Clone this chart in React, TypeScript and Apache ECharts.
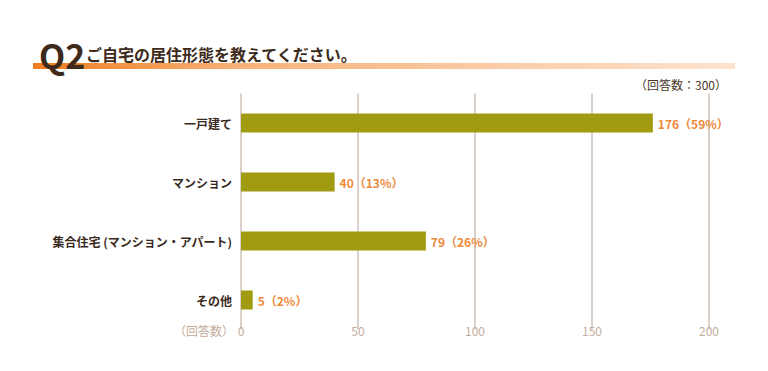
import React, { useEffect, useRef } from "react";
import * as echarts from "echarts";

const categories = ["一戸建て", "マンション", "集合住宅 (マンション・アパート)", "その他"];
const counts = [176, 40, 79, 5];
const percents = [59, 13, 26, 2];
const xTicks = [0, 50, 100, 150, 200];

export default function App() {
  const ref = useRef<HTMLDivElement>(null);
  useEffect(() => {
    if (!ref.current) return;
    const chart = echarts.init(ref.current, null, { renderer: "svg" });
    const font = "'Noto Sans CJK JP', 'Noto Sans', sans-serif";
    chart.setOption({
      animation: false,
      backgroundColor: "#ffffff",
      grid: { left: 241, right: 59, top: 93.5, bottom: 41.5, containLabel: false },
      xAxis: {
        type: "value",
        min: xTicks[0],
        max: xTicks[xTicks.length - 1],
        interval: 50,
        offset: -13,
        axisLine: { show: false },
        axisTick: { show: false },
        axisLabel: { color: "#c4ad9c", fontSize: 12, fontFamily: font, margin: 8 },
        splitLine: { show: true, lineStyle: { color: "#dad2ca", width: 2 } },
      },
      yAxis: {
        type: "category",
        data: categories,
        inverse: true,
        axisLine: { show: false },
        axisTick: { show: false },
        axisLabel: { color: "#3a2a1e", fontSize: 12, fontWeight: "bold", fontFamily: font, margin: 9 },
      },
      series: [
        {
          type: "bar",
          data: counts,
          barWidth: 19,
          itemStyle: { color: "#a09b10" },
          label: {
            show: true,
            position: "right",
            distance: 5,
            color: "#ee8a3c",
            fontSize: 12,
            fontWeight: "bold",
            fontFamily: font,
            formatter: (p: any) => `${p.value}（${percents[p.dataIndex]}%）`,
          },
        },
      ],
      graphic: [
        {
          type: "rect",
          shape: { x: 33, y: 63, width: 702, height: 6 },
          style: {
            fill: new echarts.graphic.LinearGradient(0, 0, 1, 0, [
              { offset: 0, color: "#f07d1e" },
              { offset: 0.3, color: "#f7b27a" },
              { offset: 1, color: "#fde3cf" },
            ]),
          },
          z: 1,
        },
        {
          type: "text",
          x: 39,
          y: 54,
          style: {
            text: "Q2",
            fontSize: 34,
            fontWeight: "bold",
            fontFamily: font,
            fill: "#3d2a1a",
            verticalAlign: "middle",
          },
          z: 2,
        },
        {
          type: "text",
          x: 86,
          y: 54,
          style: {
            text: "ご自宅の居住形態を教えてください。",
            fontSize: 16,
            fontWeight: "bold",
            fontFamily: font,
            fill: "#3d2a1a",
            verticalAlign: "middle",
          },
          z: 2,
        },
        {
          type: "text",
          x: 727,
          y: 84,
          style: {
            text: "（回答数：300）",
            fontSize: 12,
            fontFamily: font,
            fill: "#4a382a",
            align: "right",
            verticalAlign: "middle",
          },
        },
        {
          type: "text",
          x: 234,
          y: 330,
          style: {
            text: "（回答数）",
            fontSize: 12,
            fontFamily: font,
            fill: "#c4ad9c",
            align: "right",
            verticalAlign: "middle",
          },
        },
      ],
    });
    return () => chart.dispose();
  }, []);
  return <div ref={ref} style={{ width: 768, height: 371, position: "absolute", left: 0, top: 0 }} />;
}
